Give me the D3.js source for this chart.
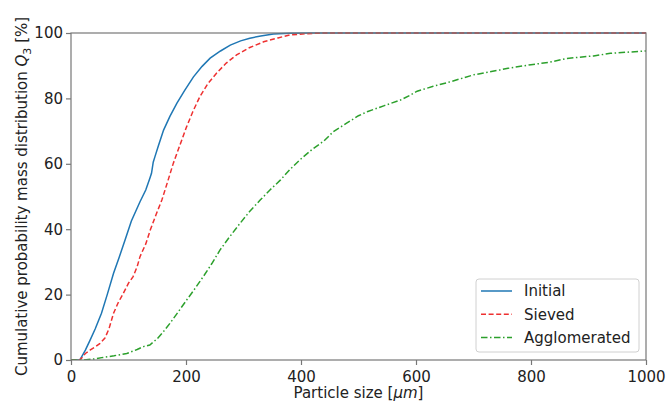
<!DOCTYPE html>
<html>
<head>
<meta charset="utf-8">
<script src="https://cdn.jsdelivr.net/npm/d3@7"></script>
<style>
  body { margin: 0; background: #fff; }
  svg { font-family: "DejaVu Sans", sans-serif; }
  .tick text { font-family: "DejaVu Sans", sans-serif; font-size: 15px; fill: #222; }
  .tick line { stroke: #777; stroke-width: 1.2px; }
  .domain { display: none; }
</style>
</head>
<body>
<svg width="667" height="403"></svg>
<script>
// particle size [um] and cumulative Q3 [%]
const initialX = [0, 15, 17, 25, 33, 42, 53, 63, 74, 84, 94, 105, 120, 130, 137, 140, 143, 146, 152, 161, 172, 184, 198, 213, 228, 242, 260, 277, 295, 311, 330, 352, 380, 420, 1000];
const initialY = [0, 0, 0.5, 3, 6, 9.5, 14.3, 20, 26.5, 31.5, 36.7, 42.5, 48.4, 52, 55.5, 57.1, 60.5, 62.2, 65.5, 70.3, 74.5, 78.5, 82.5, 86.6, 89.8, 92.3, 94.5, 96.3, 97.6, 98.4, 99.1, 99.7, 99.9, 100, 100];

const sievedX = [0, 15, 18, 25, 33, 42, 50, 59, 66, 74, 82, 91, 100, 108, 115, 120, 130, 138, 148, 158, 168, 178, 190, 201, 212, 224, 238, 253, 270, 288, 310, 335, 360, 381, 410, 440, 1000];
const sievedY = [0, 0, 0.5, 2, 3, 4, 5, 6.7, 9.5, 14.3, 17.5, 20.4, 23.5, 25.5, 28.5, 31.6, 35.5, 39.8, 44.5, 48.9, 54.5, 60.2, 66, 71.3, 76, 80.5, 84.5, 87.7, 90.8, 93.3, 95.5, 97.3, 98.5, 99.4, 99.8, 100, 100];

const agglX = [0, 20, 40, 56, 75, 97, 115, 126, 137, 150, 160, 172, 186, 201, 215, 230, 245, 259, 276, 294, 311, 329, 346, 364, 381, 398, 420, 440, 456, 480, 500, 515, 545, 573, 590, 602, 630, 660, 700, 746, 760, 800, 830, 862, 909, 938, 1000];
const agglY = [0, 0, 0.3, 0.8, 1.3, 2, 3.2, 4.1, 4.6, 6.5, 8.5, 11.2, 14.6, 18.3, 21.7, 25.5, 29.5, 33.6, 37.7, 41.8, 45.5, 48.9, 52, 55, 58.3, 61.2, 64.5, 67, 69.8, 72.5, 74.7, 75.9, 77.8, 79.5, 81, 82.2, 83.7, 85.1, 87.2, 88.7, 89.2, 90.3, 91, 92.2, 93, 93.8, 94.5];

const xTicks = [0, 200, 400, 600, 800, 1000];
const yTicks = [0, 20, 40, 60, 80, 100];

const seriesNames = ["Initial", "Sieved", "Agglomerated"];
const seriesColors = ["#1f77b4", "#ee3030", "#2ca02c"];
const seriesDash = [null, "5,2.6", "6.5,2.5,1.5,2.5"];

const margin = {left: 71, right: 21, top: 33, bottom: 43};
const width = 667, height = 403;

const svg = d3.select("svg");

const x = d3.scaleLinear().domain([0, 1000]).range([margin.left, width - margin.right]);
const y = d3.scaleLinear().domain([0, 100]).range([height - margin.bottom, margin.top]);

svg.append("g")
    .attr("transform", `translate(0,${height - margin.bottom})`)
    .call(d3.axisBottom(x).tickValues(xTicks).tickFormat(d3.format("d")).tickSize(5).tickSizeOuter(0).tickPadding(5))
    .selectAll(".tick text").attr("dy", "0.78em");

svg.append("g")
    .attr("transform", `translate(${margin.left},0)`)
    .call(d3.axisLeft(y).tickValues(yTicks).tickFormat(d3.format("d")).tickSize(5).tickSizeOuter(0).tickPadding(3));

const series = [
    initialX.map((d, i) => [d, initialY[i]]),
    sievedX.map((d, i) => [d, sievedY[i]]),
    agglX.map((d, i) => [d, agglY[i]])
];

const line = d3.line().x(d => x(d[0])).y(d => y(d[1]));

svg.append("defs").append("clipPath").attr("id", "plot")
    .append("rect")
    .attr("x", margin.left).attr("y", margin.top - 1)
    .attr("width", width - margin.left - margin.right)
    .attr("height", height - margin.top - margin.bottom + 1);

svg.append("g")
    .attr("clip-path", "url(#plot)")
    .selectAll("path")
    .data(series)
    .enter().append("path")
    .attr("d", line)
    .attr("fill", "none")
    .attr("stroke", (d, i) => seriesColors[i])
    .attr("stroke-width", 1.5)
    .attr("stroke-dasharray", (d, i) => seriesDash[i]);

// frame
svg.append("rect")
    .attr("x", margin.left).attr("y", margin.top)
    .attr("width", width - margin.left - margin.right)
    .attr("height", height - margin.top - margin.bottom)
    .attr("fill", "none")
    .attr("stroke", "#777")
    .attr("stroke-width", 1.2);

// axis labels
svg.append("text")
    .attr("x", (margin.left + width - margin.right) / 2)
    .attr("y", 398)
    .attr("text-anchor", "middle")
    .style("font-size", "15px")
    .attr("fill", "#222")
    .html('Particle size [<tspan font-style="italic">μm</tspan>]');

svg.append("text")
    .attr("transform", `translate(27,${(margin.top + height - margin.bottom) / 2}) rotate(-90)`)
    .attr("text-anchor", "middle")
    .style("font-size", "15px")
    .attr("fill", "#222")
    .html('Cumulative probability mass distribution <tspan font-style="italic">Q</tspan><tspan font-size="11px" dy="4">3</tspan><tspan dy="-4"> [%]</tspan>');

// legend
const legend = svg.append("g").attr("transform", "translate(476,279)");
legend.append("rect")
    .attr("width", 163).attr("height", 73)
    .attr("rx", 3)
    .attr("fill", "#fff").attr("fill-opacity", 0.8)
    .attr("stroke", "#d0d0d0");

const rows = legend.selectAll("g.row")
    .data(seriesNames)
    .enter().append("g")
    .attr("class", "row")
    .attr("transform", (d, i) => `translate(0,${12 + i * 23.3})`);

rows.append("line")
    .attr("x1", 5).attr("x2", 36)
    .attr("stroke", (d, i) => seriesColors[i])
    .attr("stroke-width", 1.5)
    .attr("stroke-dasharray", (d, i) => seriesDash[i]);

rows.append("text")
    .attr("x", 48)
    .attr("dy", "0.36em")
    .style("font-size", "15px")
    .attr("fill", "#222")
    .text(d => d);
</script>
</body>
</html>
